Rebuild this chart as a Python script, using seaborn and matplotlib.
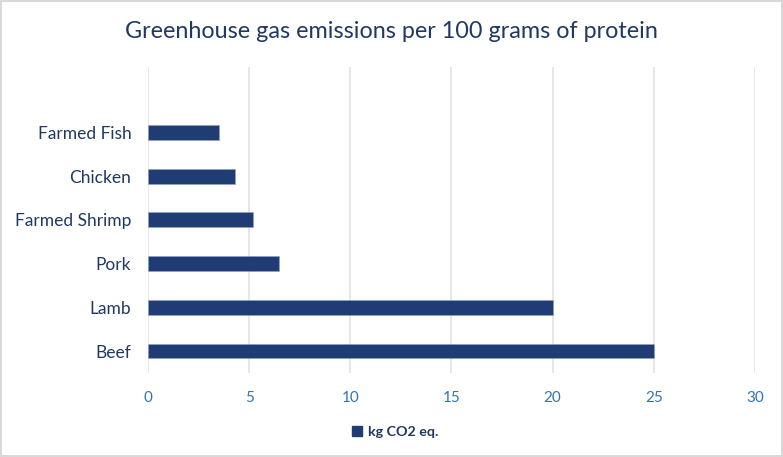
import matplotlib
matplotlib.use("Agg")
import matplotlib.pyplot as plt
import seaborn as sns
import pandas as pd
from matplotlib.patches import Patch

categories = ["Farmed Fish", "Chicken", "Farmed Shrimp", "Pork", "Lamb", "Beef"]
values = [3.5, 4.3, 5.2, 6.5, 20, 25]
series_name = "kg CO2 eq."
xticks = [0, 5, 10, 15, 20, 25, 30]
title = "Greenhouse gas emissions per 100 grams of protein"

df = pd.DataFrame({"category": categories, "value": values})

sns.set_theme(style="white")
plt.rcParams['font.family'] = ['Lato', 'DejaVu Sans']

navy = "#1F3C74"
label_col = "#203864"
tick_col = "#2E75B6"

fig = plt.figure(figsize=(7.83, 4.57), dpi=100)
fig.patch.set_facecolor("white")
fig.patch.set_edgecolor("#D9D9D9")
fig.patch.set_linewidth(1.5)
ax = fig.add_axes([0.189, 0.184, 0.775, 0.67])

sns.barplot(data=df, x="value", y="category", order=categories, color=navy,
            width=0.34, saturation=1, ax=ax, zorder=3)
for p in ax.patches:
    p.set_edgecolor("#8FA3C8")
    p.set_linewidth(0.4)

ax.set_xlim(0, 30)
ax.set_ylim(5.5, -1.5)
ax.set_xticks(xticks)
ax.set_xticklabels([str(t) for t in xticks])
ax.xaxis.grid(True, color="#E3E3E3", linewidth=1.2, zorder=0)
ax.yaxis.grid(False)
for s in ax.spines.values():
    s.set_visible(False)
ax.tick_params(axis="x", colors=tick_col, labelsize=11, length=0, pad=13)
ax.tick_params(axis="y", colors=label_col, labelsize=12.5, length=0, pad=12)
for t in ax.get_xticklabels():
    t.set_color(tick_col)
ax.set_xlabel("")
ax.set_ylabel("")

fig.text(0.5, 0.93, title, ha="center", va="center", fontsize=16.8, color=label_col)

handle = Patch(facecolor=navy, edgecolor=navy, label=series_name)
leg = fig.legend(handles=[handle], loc="center", bbox_to_anchor=(0.505, 0.055),
                 frameon=False, handlelength=0.7, handleheight=0.7, handletextpad=0.4,
                 prop={"weight": "bold", "size": 10.3})
for t in leg.get_texts():
    t.set_color(label_col)

fig.savefig("out.png", dpi=100, facecolor=fig.get_facecolor(), edgecolor=fig.get_edgecolor())
